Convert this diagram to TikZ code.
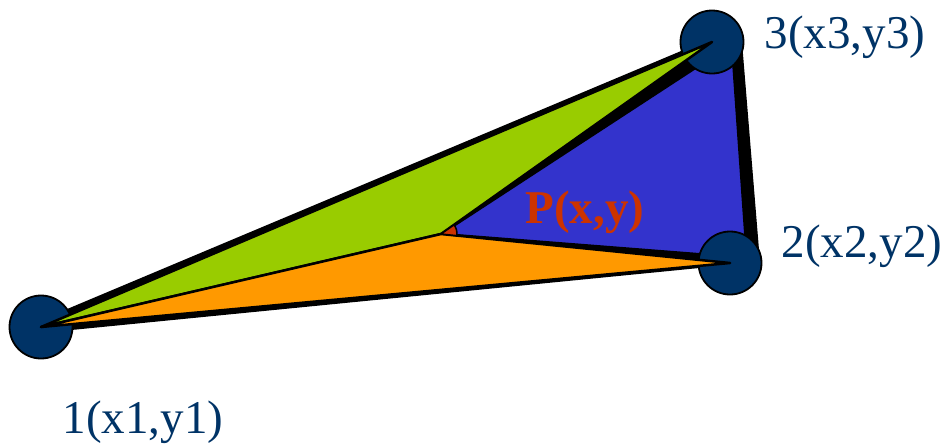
\documentclass[tikz,border=0pt]{standalone}
\usepackage{fontspec}
\setmainfont{Liberation Serif}
\usepackage{tikz}
\usetikzlibrary{calc}
\definecolor{triblack}{HTML}{000000}
\definecolor{trigreen}{HTML}{99CC00}
\definecolor{triorange}{HTML}{FF9900}
\definecolor{triblue}{HTML}{3333CC}
\definecolor{vtxnavy}{HTML}{003366}
\definecolor{pointred}{HTML}{CC3300}
\tikzset{
  % Sub-triangles
  subtri/.style={fill=#1, draw=black, line width=2.5pt, line join=round},
  subtri/.default={trigreen},
  % Vertex discs
  vtx/.style={circle, minimum size=63pt, inner sep=0pt,
    fill=vtxnavy, draw=black, line width=1.8pt},
  % Vertex labels
  vtxlabel/.style={font=\fontsize{47}{47}\selectfont, text=vtxnavy,
    inner sep=0pt, anchor=base},
  % Point label
  ptlabel/.style={font=\fontsize{47}{47}\selectfont\bfseries, text=pointred,
    inner sep=0pt, anchor=base},
}

\begin{document}
\begin{tikzpicture}[x=1pt, y=1pt]
  \useasboundingbox (0,0) rectangle (947,-445);

  % Corner points
  \coordinate (c1) at (41,-327);
  \coordinate (c2) at (730,-263);
  \coordinate (c3) at (712,-42);
  \coordinate (P)  at (441,-234);
  \coordinate (b2) at (747,-258);
  \coordinate (b3) at (732,-44);

  % Thick outer border
  \fill[triblack] (41,-320) -- (712,-38) -- (742,-42) -- (760,-262)
    -- (41,-333) -- cycle;

  % Blue part (under the discs)
  \filldraw[subtri=triblue] (P) -- (b3) -- (b2) -- cycle;

  % Vertex discs
  \node[vtx] (v1) at (c1) {};
  \node[vtx] (v2) at (c2) {};
  \node[vtx] (v3) at (c3) {};

  % Green and orange parts
  \filldraw[subtri=trigreen] (c1) -- (c3) -- (P) -- cycle;
  \filldraw[subtri=triorange] (c1) -- (P) -- (c2) -- cycle;

  % Marker at P
  \filldraw[fill=pointred, draw=black, line width=1.5pt]
    (P) -- ++(-6:16pt) arc[start angle=-6, end angle=35, radius=16pt] -- cycle;

  % Labels
  \node[ptlabel] (plabel) at (585,-223) {P(x,y)};
  \node[vtxlabel] (l3) at (845,-48) {3(x3,y3)};
  \node[vtxlabel] (l2) at (862,-257) {2(x2,y2)};
  \node[vtxlabel] (l1) at (143,-433) {1(x1,y1)};

\end{tikzpicture}
\end{document}
